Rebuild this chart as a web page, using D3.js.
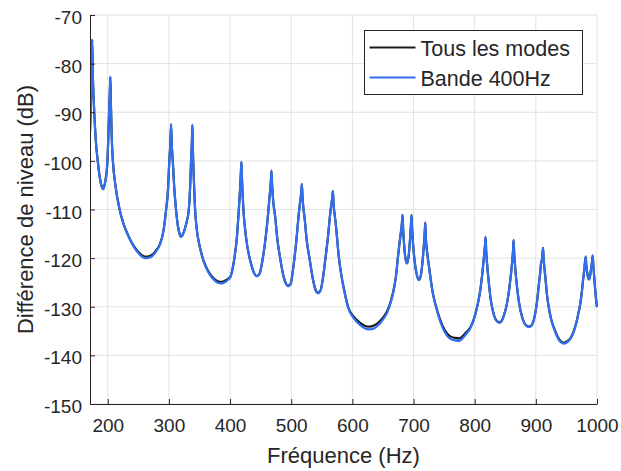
<!DOCTYPE html>
<html lang="fr">
<head>
<meta charset="utf-8">
<title>Différence de niveau</title>
<script src="https://d3js.org/d3.v7.min.js"></script>
<style>
  body { margin: 0; background: #fff; }
  svg text { font-family: "Liberation Sans", Arial, Helvetica, sans-serif; fill: #262626; }
</style>
</head>
<body>
<div id="chart"></div>
<script>
// frequencies (Hz)
var freq = [
  171, 172.5, 173.7, 174.5, 175.5, 177, 178, 180.5, 184.1, 187.5,
  190.5, 192.3, 194.3, 196.3, 199.3, 201, 202.1, 203.3, 204.3, 205.3,
  206.5, 208.7, 212, 219.6, 226, 234.4, 243, 252, 261.5, 270,
  278, 285.6, 291, 295.4, 298.5, 300.8, 302.4, 303.6, 304.6, 306.3,
  308.5, 311.7, 315, 318, 320, 322.5, 326, 329.5, 332.5, 334.8,
  336.3, 337.6, 338.4, 339.4, 340.6, 342.9, 345.5, 349.4, 356.4, 364,
  372, 379, 385.4, 392, 397, 400.6, 406.6, 411, 414.3, 416.5,
  417.7, 418.6, 419.6, 421.9, 425, 428.5, 432.8, 437.5, 443.8, 448,
  453.6, 457.5, 461.8, 464.5, 466.6, 467.7, 469, 471, 473.8, 477.5,
  481.9, 487, 491, 494.5, 499, 503, 505.3, 508.5, 511.9, 514.5,
  516.4, 517.4, 518.5, 520, 521.7, 525.5, 529.9, 535, 539.5, 543.6,
  548, 552, 556, 560, 563.2, 565.8, 567.3, 568.2, 569.3, 571,
  573.3, 577.6, 582, 587, 593, 601.9, 612.8, 620, 628, 636,
  641.2, 649, 657.6, 663, 668.5, 671.5, 674, 677, 679.5, 681,
  682, 683, 684.5, 686.5, 689.2, 691.8, 693.8, 695.4, 696.7, 697.7,
  699.5, 702, 705, 708.8, 712, 714.5, 716.5, 718, 719.2, 720.2,
  722, 724.5, 727.3, 731, 735.5, 743.6, 751, 760, 768, 775.3,
  782, 787.4, 793, 798.2, 802.5, 806.4, 809.5, 811.9, 814, 815.7,
  817, 817.8, 818.8, 820.5, 822.7, 825.5, 828.3, 832, 836, 840.2,
  844, 848, 852.8, 856, 858.2, 860, 861.5, 862.8, 863.6, 864.6,
  866.5, 869.2, 873, 877.4, 882, 888.2, 893, 896.5, 899.1, 902,
  904.5, 906.7, 908.5, 910.6, 911.7, 912.7, 914, 915.5, 918, 921,
  925, 929, 933, 937.2, 941, 945.5, 950, 956.4, 962, 967.3,
  970, 972.7, 975, 977.2, 979.5, 981.4, 982.5, 984, 985.5, 987,
  988.5, 990, 991.7, 992.9, 994, 995.5, 997.5, 1000
];

// "Tous les modes" (dB)
var tousLesModes = [
  -94.0, -88.0, -81.0, -75.1, -81.8, -87.3, -90.2, -95.8, -100.5, -103.8,
  -105.4, -105.8, -105.2, -104.0, -100.5, -95.0, -90.2, -86.5, -82.7, -89.0,
  -95.0, -100.5, -104.5, -110.1, -113.0, -115.6, -117.6, -119.0, -119.7, -119.5,
  -118.6, -117.0, -114.5, -110.1, -106.0, -99.8, -96.5, -92.5, -96.5, -99.8,
  -105.0, -110.1, -113.6, -115.2, -115.6, -115.2, -114.0, -112.3, -110.1, -105.1,
  -99.8, -96.0, -92.6, -98.5, -103.0, -110.1, -114.0, -117.0, -120.4, -122.6,
  -124.0, -124.7, -124.9, -124.6, -124.2, -123.8, -120.4, -116.0, -110.1, -105.5,
  -102.5, -100.2, -104.0, -110.1, -114.5, -117.8, -120.4, -122.5, -123.7, -123.3,
  -120.0, -116.5, -111.5, -107.5, -104.5, -102.0, -105.5, -108.8, -111.5, -116.3,
  -120.0, -123.5, -125.1, -125.7, -125.3, -122.3, -120.0, -116.3, -111.5, -108.5,
  -106.5, -104.8, -107.5, -109.8, -111.5, -116.5, -120.0, -124.0, -126.4, -127.1,
  -126.6, -124.0, -120.0, -115.8, -111.5, -108.8, -107.3, -106.2, -109.0, -111.0,
  -113.5, -119.5, -123.5, -126.8, -130.0, -132.0, -133.3, -133.9, -134.1, -133.8,
  -133.4, -132.4, -130.7, -128.8, -125.9, -123.5, -120.4, -117.0, -114.5, -112.8,
  -111.1, -114.0, -117.0, -119.8, -121.1, -119.8, -117.0, -114.0, -111.1, -114.0,
  -117.5, -120.8, -123.2, -124.5, -123.5, -121.0, -118.0, -115.5, -112.7, -116.0,
  -118.5, -121.0, -123.6, -126.8, -129.3, -132.7, -134.8, -136.1, -136.4, -136.5,
  -135.8, -135.1, -134.2, -132.7, -130.8, -128.6, -126.3, -123.8, -121.3, -119.0,
  -117.2, -115.7, -118.5, -121.5, -124.5, -127.8, -130.0, -131.9, -132.9, -133.2,
  -132.9, -131.7, -129.3, -126.8, -124.5, -122.5, -120.4, -118.3, -116.3, -119.0,
  -122.3, -125.9, -129.5, -132.0, -133.5, -134.1, -133.8, -132.8, -131.3, -128.9,
  -125.9, -123.5, -121.1, -119.8, -117.9, -120.0, -122.0, -123.8, -127.3, -130.0,
  -132.5, -134.1, -135.4, -136.5, -137.1, -137.4, -137.2, -136.5, -135.0, -132.7,
  -131.1, -129.3, -127.2, -124.5, -122.0, -119.7, -121.5, -123.0, -124.0, -124.4,
  -123.8, -122.5, -121.0, -119.5, -121.5, -124.0, -127.2, -130.1
];

// "Bande 400Hz" (dB)
var bande400 = [
  -94.0, -88.0, -81.0, -75.1, -81.8, -87.3, -90.2, -95.8, -100.5, -103.8,
  -105.4, -105.8, -105.2, -104.0, -100.5, -95.0, -90.2, -86.5, -82.7, -89.0,
  -95.0, -100.5, -104.5, -110.1, -113.0, -115.65, -117.75, -119.25, -120.0, -119.8,
  -118.8, -117.1, -114.5, -110.1, -106.0, -99.8, -96.5, -92.5, -96.5, -99.8,
  -105.0, -110.1, -113.6, -115.2, -115.6, -115.2, -114.0, -112.3, -110.1, -105.1,
  -99.8, -96.0, -92.6, -98.5, -103.0, -110.1, -114.0, -117.0, -120.5, -122.8,
  -124.25, -125.0, -125.2, -124.9, -124.4, -123.9, -120.4, -116.0, -110.1, -105.5,
  -102.5, -100.2, -104.0, -110.1, -114.5, -117.8, -120.4, -122.5, -123.7, -123.3,
  -120.0, -116.5, -111.5, -107.5, -104.5, -102.0, -105.5, -108.8, -111.5, -116.3,
  -120.0, -123.5, -125.2, -125.8, -125.4, -122.3, -120.0, -116.3, -111.5, -108.5,
  -106.5, -104.8, -107.5, -109.8, -111.5, -116.5, -120.0, -124.0, -126.5, -127.25,
  -126.7, -124.0, -120.0, -115.8, -111.5, -108.8, -107.3, -106.2, -109.0, -111.0,
  -113.5, -119.5, -123.6, -126.9, -130.2, -132.3, -133.8, -134.4, -134.65, -134.4,
  -133.9, -132.8, -131.0, -129.0, -126.0, -123.5, -120.4, -117.0, -114.5, -112.8,
  -111.1, -114.0, -117.0, -119.8, -121.1, -119.8, -117.0, -114.0, -111.1, -114.0,
  -117.5, -120.8, -123.2, -124.5, -123.5, -121.0, -118.0, -115.5, -112.7, -116.0,
  -118.5, -121.0, -123.6, -126.9, -129.45, -133.0, -135.2, -136.6, -136.9, -137.0,
  -136.2, -135.4, -134.4, -132.8, -130.85, -128.6, -126.3, -123.8, -121.3, -119.0,
  -117.2, -115.7, -118.5, -121.5, -124.5, -127.8, -130.0, -131.95, -133.0, -133.3,
  -133.0, -131.7, -129.3, -126.8, -124.5, -122.5, -120.4, -118.3, -116.3, -119.0,
  -122.3, -125.9, -129.5, -132.05, -133.6, -134.2, -133.9, -132.8, -131.3, -128.9,
  -125.9, -123.5, -121.1, -119.8, -117.9, -120.0, -122.0, -123.8, -127.3, -130.0,
  -132.6, -134.3, -135.6, -136.7, -137.3, -137.6, -137.4, -136.6, -135.1, -132.7,
  -131.1, -129.3, -127.2, -124.5, -122.0, -119.7, -121.5, -123.0, -124.0, -124.4,
  -123.8, -122.5, -121.0, -119.5, -121.5, -124.0, -127.2, -130.1
];

var xTicks = [200, 300, 400, 500, 600, 700, 800, 900, 1000];
var yTicks = [-150, -140, -130, -120, -110, -100, -90, -80, -70];
var legendLabels = ["Tous les modes", "Bande 400Hz"];
var colors = ["#1a1a1a", "#2f6ff0"];

var width = 621,
    height = 471,
    margin = { top: 15, right: 24, bottom: 67, left: 90 },
    w = width - margin.left - margin.right,
    h = height - margin.top - margin.bottom;

var svg = d3.select("#chart").append("svg")
    .attr("width", width)
    .attr("height", height);

var g = svg.append("g")
    .attr("transform", `translate(${margin.left},${margin.top})`);

var x = d3.scaleLinear().domain([171, 1000]).range([0, w]);
var y = d3.scaleLinear().domain([-150, -70]).range([h, 0]);

// grid
g.append("g").selectAll("line").data(xTicks).enter().append("line")
    .attr("x1", d => x(d)).attr("x2", d => x(d))
    .attr("y1", 0).attr("y2", h)
    .attr("stroke", "#e2e2e2").attr("stroke-width", 1);
g.append("g").selectAll("line").data(yTicks).enter().append("line")
    .attr("x1", 0).attr("x2", w)
    .attr("y1", d => y(d)).attr("y2", d => y(d))
    .attr("stroke", "#e2e2e2").attr("stroke-width", 1);

g.append("clipPath").attr("id", "clip")
  .append("rect").attr("x", 0).attr("y", -2).attr("width", w + 2).attr("height", h + 4);

var line = d3.line()
    .x(d => x(d[0]))
    .y(d => y(d[1]))
    .curve(d3.curveMonotoneX);

var series = [d3.zip(freq, tousLesModes), d3.zip(freq, bande400)];

g.append("g").attr("clip-path", "url(#clip)")
  .selectAll("path").data(series).enter().append("path")
    .attr("d", line)
    .attr("fill", "none")
    .attr("stroke", (d, i) => colors[i])
    .attr("stroke-width", 2.2)
    .attr("stroke-linejoin", "round");

// axes (plain hyphen minus, no thousands separator)
var fmt = d => String(d);
var xAxis = d3.axisBottom(x).tickValues(xTicks).tickFormat(fmt)
    .tickSizeInner(-5).tickSizeOuter(0).tickPadding(15);
var yAxis = d3.axisLeft(y).tickValues(yTicks).tickFormat(fmt)
    .tickSizeInner(-5).tickSizeOuter(0).tickPadding(8);

var gx = g.append("g").attr("transform", `translate(0,${h})`).call(xAxis);
var gy = g.append("g").call(yAxis);

[gx, gy].forEach(function(a) {
  a.select(".domain").attr("stroke", "#262626").attr("stroke-width", 1);
  a.selectAll(".tick line").attr("stroke", "#262626");
  a.selectAll("text").attr("font-size", 19)
    .attr("font-family", "'Liberation Sans', Arial, sans-serif").attr("fill", "#262626");
});
gx.selectAll("text").attr("dy", "0.71em");
gy.selectAll("text").attr("dy", "0.45em");

// labels
svg.append("text")
    .attr("x", margin.left + w / 2)
    .attr("y", 463)
    .attr("text-anchor", "middle")
    .attr("font-size", 22)
    .text("Fréquence (Hz)");

svg.append("text")
    .attr("transform", `translate(33,${margin.top + h / 2}) rotate(-90)`)
    .attr("text-anchor", "middle")
    .attr("font-size", 22)
    .text("Différence de niveau (dB)");

// legend
var lg = svg.append("g").attr("transform", "translate(364.5,30.5)");
lg.append("rect")
    .attr("width", 218).attr("height", 64)
    .attr("fill", "#fff").attr("stroke", "#262626").attr("stroke-width", 1);
legendLabels.forEach(function(name, i) {
  var yy = 17 + i * 30;
  lg.append("line")
    .attr("x1", 5).attr("x2", 51)
    .attr("y1", yy).attr("y2", yy)
    .attr("stroke", colors[i]).attr("stroke-width", 2);
  lg.append("text")
    .attr("x", 56).attr("y", yy + 8)
    .attr("font-size", 21.5)
    .attr("fill", "#000")
    .text(name);
});
</script>
</body>
</html>
